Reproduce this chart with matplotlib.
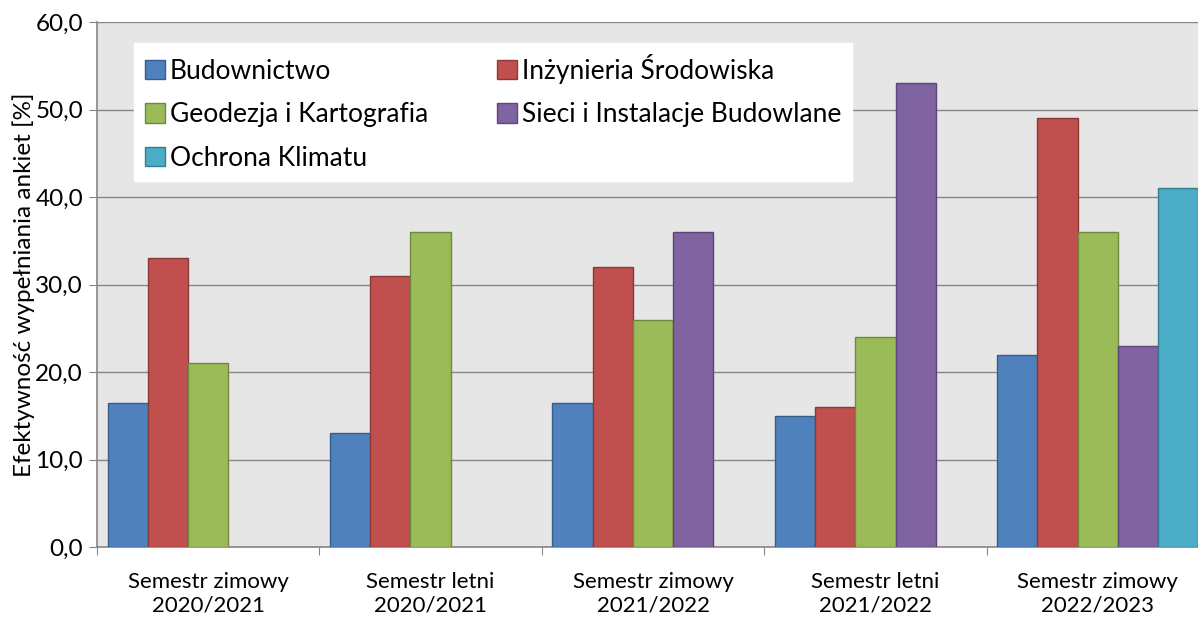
import matplotlib.pyplot as plt
import numpy as np

plt.rcParams['font.family'] = ['Lato', 'DejaVu Sans']

semestry = ["Semestr zimowy\n2020/2021", "Semestr letni\n2020/2021", "Semestr zimowy\n2021/2022",
            "Semestr letni\n2021/2022", "Semestr zimowy\n2022/2023"]
budownictwo = [16.5, 13.0, 16.5, 15.0, 22.0]
inzynieria = [33.0, 31.0, 32.0, 16.0, 49.0]
geodezja = [21.0, 36.0, 26.0, 24.0, 36.0]
sieci = [np.nan, np.nan, 36.0, 53.0, 23.0]
ochrona = [np.nan, np.nan, np.nan, np.nan, 41.0]

serie = [
    ("Budownictwo", budownictwo, "#4F81BD", "#385D8A"),
    ("Inżynieria Środowiska", inzynieria, "#C0504D", "#8C3836"),
    ("Geodezja i Kartografia", geodezja, "#9BBB59", "#71893F"),
    ("Sieci i Instalacje Budowlane", sieci, "#8064A2", "#5C4776"),
    ("Ochrona Klimatu", ochrona, "#4BACC6", "#357D91"),
]

fig = plt.figure(figsize=(11.98, 6.18), dpi=100)
ax = fig.add_axes([97 / 1198, 71 / 618, 1112 / 1198, 525 / 618])
ax.set_facecolor("#E6E6E6")

x = np.arange(len(semestry))
w = 0.181
bars = {}
for i, (name, vals, col, ec) in enumerate(serie):
    bars[name] = ax.bar(x + (i - 2) * w, vals, w, color=col, edgecolor=ec, linewidth=1, label=name, zorder=3)

ax.set_xlim(-0.5, 4.5)
ax.set_ylim(0, 60)
ax.set_yticks(np.arange(0, 61, 10))
ax.set_yticklabels([f"{v:.1f}".replace(".", ",") for v in np.arange(0, 61, 10)], fontsize=17.5)
ax.yaxis.grid(True, color="#868686", linewidth=1, zorder=0)
ax.set_axisbelow(True)

ax.set_xticks(np.arange(-0.5, 5, 1))
ax.set_xticklabels([])
ax.set_xticks(x, minor=True)
ax.set_xticklabels(semestry, minor=True, fontsize=16, linespacing=1.25)
ax.tick_params(axis="x", which="major", length=6, color="#868686")
ax.tick_params(axis="x", which="minor", length=0, pad=18)
ax.tick_params(axis="y", length=6, color="#868686", pad=4)

for s in ["top", "right"]:
    ax.spines[s].set_visible(False)
for s in ["left", "bottom"]:
    ax.spines[s].set_color("#868686")
    ax.spines[s].set_linewidth(1.2)

ax.set_ylabel("Efektywność wypełniania ankiet [%]", fontsize=17.5, labelpad=0)

order = ["Budownictwo", "Geodezja i Kartografia", "Ochrona Klimatu",
         "Inżynieria Środowiska", "Sieci i Instalacje Budowlane"]
leg = ax.legend([bars[n] for n in order], order, ncol=2, loc="upper left",
                bbox_to_anchor=(37 / 1112, 1 - 21 / 525), borderaxespad=0, fontsize=19, frameon=True,
                fancybox=False, edgecolor="white", facecolor="white", framealpha=1,
                handlelength=0.76, handleheight=0.76, handletextpad=0.2, columnspacing=2.6,
                labelspacing=0.7, borderpad=0.4)
leg.set_zorder(5)

fig.savefig("out.png", dpi=100)
